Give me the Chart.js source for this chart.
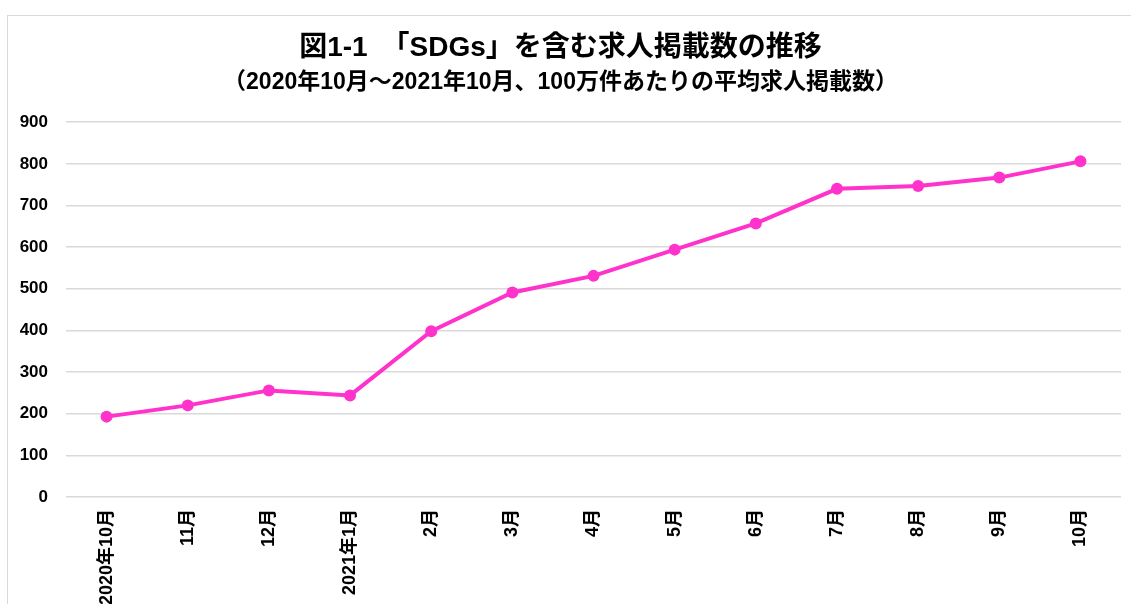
<!DOCTYPE html>
<html>
<head>
<meta charset="utf-8">
<script src="https://cdn.jsdelivr.net/npm/chart.js@4"></script>
<style>
  body { margin: 0; background: #fff; overflow: hidden; }
  #frame { position: absolute; left: 7px; top: 15px; width: 1200px; height: 700px; border: 1px solid #d9d9d9; }
  #chart { position: absolute; left: 0; top: 0; }
</style>
</head>
<body>
<div id="frame"></div>
<canvas id="chart" width="1131" height="604"></canvas>
<script>
const months = ['2020年10月', '11月', '12月', '2021年1月', '2月', '3月', '4月', '5月', '6月', '7月', '8月', '9月', '10月'];
const postings = [193, 220, 256, 244, 398, 491, 531, 594, 657, 740, 747, 767, 806];
const titleText = '図1-1　「SDGs」を含む求人掲載数の推移';
const subtitleText = '（2020年10月～2021年10月、100万件あたりの平均求人掲載数）';

const fontFamily = '"Liberation Sans", Arial, "Noto Sans CJK JP", sans-serif';
const pink = '#ff33cc';

new Chart(document.getElementById('chart'), {
  type: 'line',
  data: {
    labels: months,
    datasets: [{
      data: postings,
      borderColor: pink,
      backgroundColor: pink,
      borderWidth: 4,
      pointRadius: 6,
      pointBackgroundColor: pink,
      pointBorderWidth: 0,
      tension: 0
    }]
  },
  options: {
    responsive: false,
    animation: false,
    layout: { padding: { left: 0, right: 10, top: 0, bottom: 0 } },
    plugins: {
      legend: { display: false },
      tooltip: { enabled: false },
      title: {
        display: true,
        text: titleText,
        color: '#000',
        font: { family: fontFamily, size: 28, weight: 'bold', lineHeight: 1.2 },
        padding: { top: 31, bottom: 2 }
      },
      subtitle: {
        display: true,
        text: subtitleText,
        color: '#000',
        font: { family: fontFamily, size: 23, weight: 'bold', lineHeight: 1.2 },
        padding: { top: 2, bottom: 26 }
      }
    },
    scales: {
      x: {
        offset: true,
        grid: { display: false },
        border: { display: false },
        ticks: {
          color: '#000',
          font: { family: fontFamily, size: 18, weight: 'bold' },
          minRotation: 90,
          maxRotation: 90,
          autoSkip: false,
          padding: 4
        },
        afterFit: (scale) => { scale.height = 107; }
      },
      y: {
        min: 0,
        max: 900,
        grid: { color: '#d9d9d9', lineWidth: 1.5, drawTicks: false },
        border: { display: false },
        ticks: {
          stepSize: 100,
          color: '#000',
          font: { family: fontFamily, size: 17, weight: 'bold' },
          padding: 18
        },
        afterFit: (scale) => { scale.width = 66; }
      }
    }
  }
});
</script>
</body>
</html>
